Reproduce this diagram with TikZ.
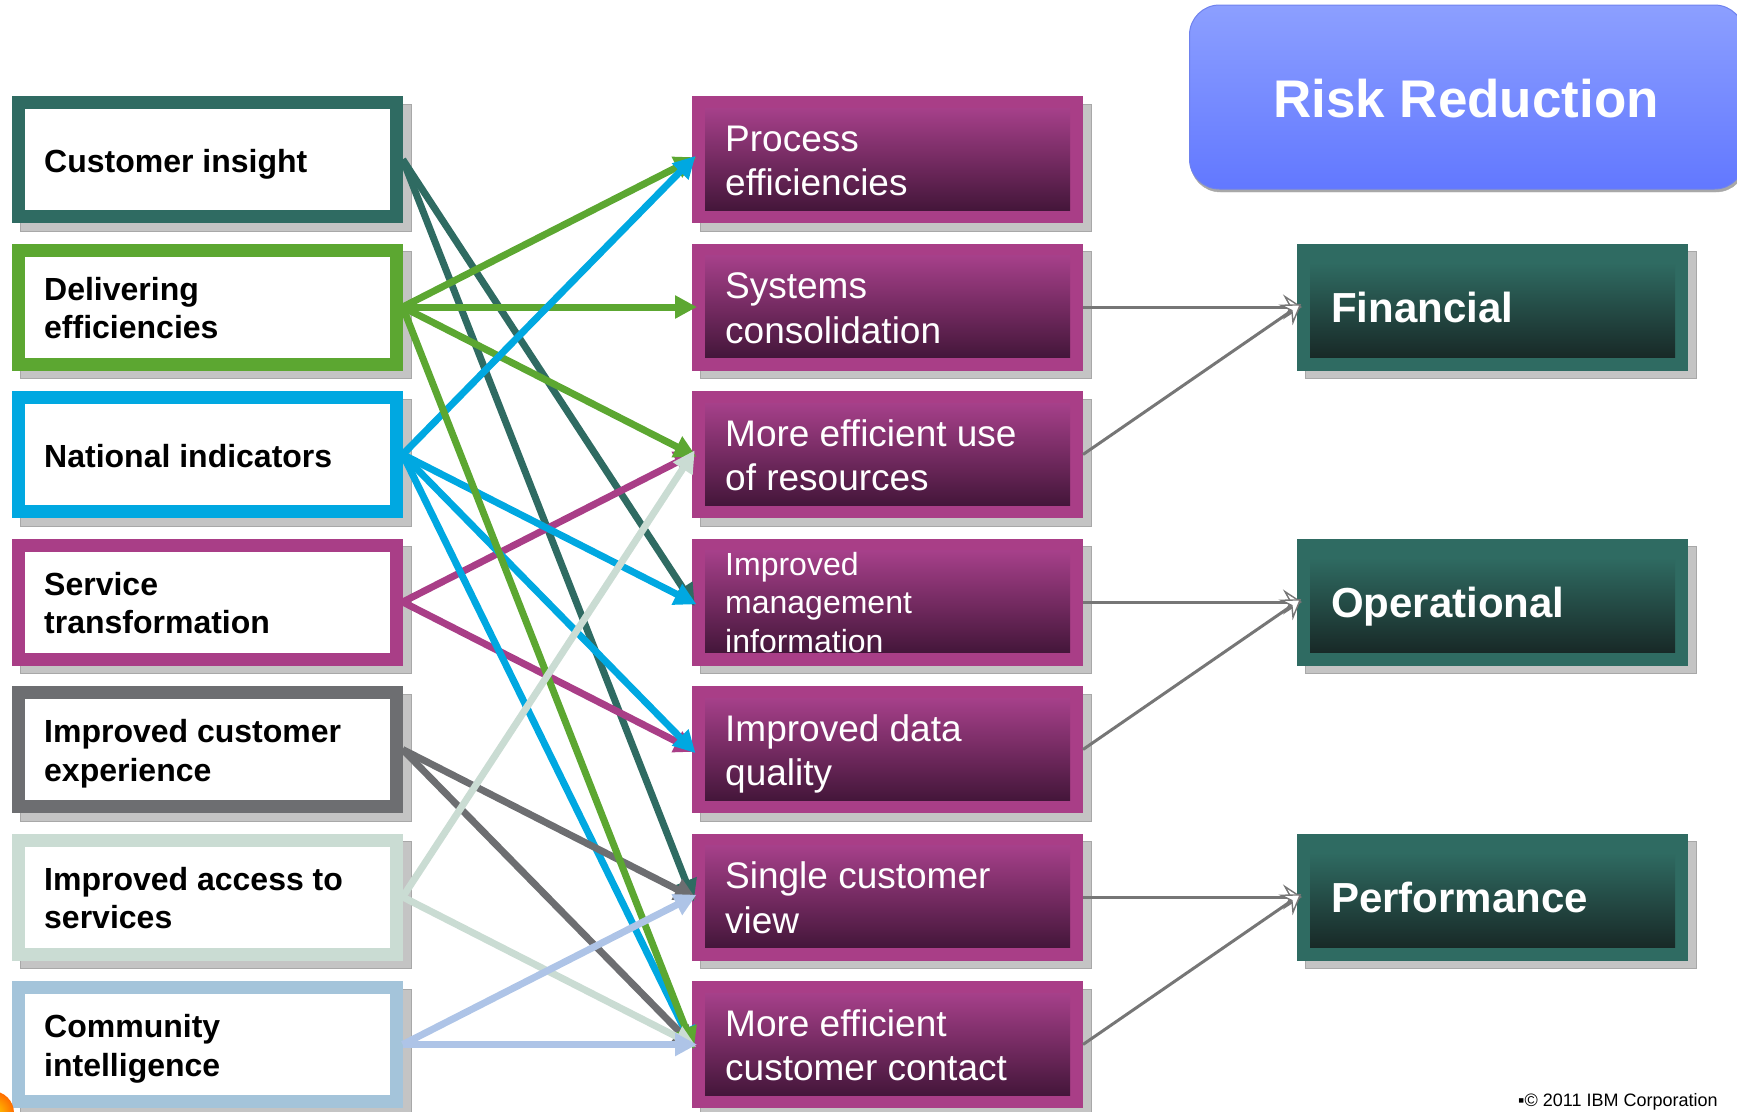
\documentclass[tikz,border=0pt]{standalone}
\usepackage{fontspec}
\setmainfont{Liberation Sans}
\usetikzlibrary{arrows.meta}
\definecolor{cteal}{HTML}{2F6B62}
\definecolor{cgreen}{HTML}{5CA731}
\definecolor{cblue}{HTML}{00A8E1}
\definecolor{cmag}{HTML}{A93E87}
\definecolor{cgrey}{HTML}{6D6E71}
\definecolor{cpale}{HTML}{CADCD3}
\definecolor{csteel}{HTML}{A4C4DA}
\definecolor{clav}{HTML}{AEC4E7}
\definecolor{mtop}{HTML}{A6408A}
\definecolor{mmid}{HTML}{7C2C66}
\definecolor{mbot}{HTML}{44163A}
\definecolor{ttop}{HTML}{2F6B62}
\definecolor{tbot}{HTML}{182927}
\definecolor{rtop}{HTML}{8C9FFF}
\definecolor{rbot}{HTML}{6278FF}
\definecolor{rline}{HTML}{6F82EE}
\definecolor{shadowc}{HTML}{C4C4C4}
\definecolor{shadowl}{HTML}{A8A8A8}
\definecolor{conn}{HTML}{767676}
\begin{document}
\begin{tikzpicture}[x=1pt,y=-1pt,
  lbox/.style={rectangle, draw=#1, line width=13pt, fill=white, minimum width=378pt, minimum height=114pt, inner sep=0pt},
  mbox/.style={rectangle, fill=cmag, minimum width=391pt, minimum height=127pt, inner sep=0pt, outer sep=0pt},
  rbox/.style={rectangle, fill=cteal, minimum width=391pt, minimum height=127pt, inner sep=0pt, outer sep=0pt},
  ltxt/.style={font=\fontsize{32}{38.5}\selectfont\bfseries, align=left, inner sep=0pt, text=black},
  mtxt/.style={font=\fontsize{37}{44.3}\selectfont, align=left, inner sep=0pt, text=white},
  msmall/.style={font=\fontsize{32}{38.5}\selectfont, align=left, inner sep=0pt, text=white},
  rtxt/.style={font=\fontsize{42}{50}\selectfont\bfseries, inner sep=0pt, text=white},
  larr/.style={draw=#1, line width=7pt, -{Triangle[length=22pt,width=22pt]}, shorten >=-5pt},
  rarr/.style={draw=conn, line width=3pt, -{Stealth[length=19pt,width=25pt,inset=7pt,fill=white,line width=1.4pt]}, shorten >=-5pt},
  shad/.style={fill=shadowc, draw=shadowl, line width=0.8pt}
]
\useasboundingbox (0,0) rectangle (1737,1111);
\clip (0,0) rectangle (1737,1111);

% shadows
\foreach \t in {96,243.5,391,538.5,686,833.5,981} {
  \filldraw[shad] (20.2,\t+8) rectangle (411.2,\t+135);
  \filldraw[shad] (700.5,\t+8) rectangle (1091.5,\t+135);
}
\foreach \t in {243.5,538.5,833.5} {
  \filldraw[shad] (1305.5,\t+8) rectangle (1696.5,\t+135);
}

% Risk Reduction
\filldraw[shadowl, rounded corners=30pt] (1190.5,8) rectangle (1746,192);
\node[rectangle, rounded corners=30pt, draw=rline, line width=1pt, top color=rtop, bottom color=rbot,
  minimum width=555pt, minimum height=184pt, inner sep=0pt] (RR) at (1467,97) {};
\node[font=\fontsize{53}{60}\selectfont\bfseries, text=white, inner sep=0pt, anchor=base] (RRt) at (1466,117) {Risk Reduction};

% left boxes
\node[lbox=cteal]  (L1) at (207.2,159.5) {};
\node[lbox=cgreen] (L2) at (207.2,307) {};
\node[lbox=cblue]  (L3) at (207.2,454.5) {};
\node[lbox=cmag]   (L4) at (207.2,602) {};
\node[lbox=cgrey]  (L5) at (207.2,749.5) {};
\node[lbox=cpale]  (L6) at (207.2,897) {};
\node[lbox=csteel] (L7) at (207.2,1044.5) {};

\node[ltxt, anchor=base west]  (T1) at (44,172) {Customer insight};
\node[ltxt, anchor=north west] (T2) at (44,273) {\strut Delivering\\\strut efficiencies};
\node[ltxt, anchor=base west]  (T3) at (44,467) {National indicators};
\node[ltxt, anchor=north west] (T4) at (44,568) {\strut Service\\\strut transformation};
\node[ltxt, anchor=north west] (T5) at (44,715.5) {\strut Improved customer\\\strut experience};
\node[ltxt, anchor=north west] (T6) at (44,863) {\strut Improved access to\\\strut services};
\node[ltxt, anchor=north west] (T7) at (44,1010.5) {\strut Community\\\strut intelligence};

% middle boxes
\foreach \n/\y in {1/159.5,2/307,3/454.5,4/602,5/749.5,6/897,7/1044.5} {
  \node[mbox] (M\n) at (887.5,\y) {};
  \shade[top color=mtop, middle color=mmid, bottom color=mbot] ([shift={(13,12)}]M\n.north west) rectangle ([shift={(-13,-13)}]M\n.south east);
}
\node[mtxt, anchor=north west] (N1) at (725,120) {\strut Process\\\strut efficiencies};
\node[mtxt, anchor=north west] (N2) at (725,267.5) {\strut Systems\\\strut consolidation};
\node[mtxt, anchor=north west] (N3) at (725,415) {\strut More efficient use\\\strut of resources};
\node[msmall, anchor=north west] (N4) at (725,548) {\strut Improved\\\strut management\\\strut information};
\node[mtxt, anchor=north west] (N5) at (725,710) {\strut Improved data\\\strut quality};
\node[mtxt, anchor=north west] (N6) at (725,857.5) {\strut Single customer\\\strut view};
\node[mtxt, anchor=north west] (N7) at (725,1005) {\strut More efficient\\\strut customer contact};

% right boxes
\foreach \n/\y in {1/307,2/602,3/897} {
  \node[rbox] (R\n) at (1492.5,\y) {};
  \shade[top color=ttop, bottom color=tbot] ([shift={(13,19)}]R\n.north west) rectangle ([shift={(-13,-13)}]R\n.south east);
}
\node[rtxt, anchor=base west] (F1) at (1331,322.5) {Financial};
\node[rtxt, anchor=base west] (F2) at (1331,617.5) {Operational};
\node[rtxt, anchor=base west] (F3) at (1331,912.5) {Performance};

% left-to-middle connectors
\draw[larr=cteal] (L1.east) -- (M4.west);
\draw[larr=cteal] (L1.east) -- (M6.west);
\draw[larr=cmag] (L4.east) -- (M3.west);
\draw[larr=cmag] (L4.east) -- (M5.west);
\draw[larr=cgreen] (L2.east) -- (M1.west);
\draw[larr=cgreen] (L2.east) -- (M2.west);
\draw[larr=cgreen] (L2.east) -- (M3.west);
\draw[larr=cblue] (L3.east) -- (M1.west);
\draw[larr=cblue] (L3.east) -- (M4.west);
\draw[larr=cblue] (L3.east) -- (M5.west);
\draw[larr=cblue] (L3.east) -- (M7.west);
\draw[larr=cgrey] (L5.east) -- (M6.west);
\draw[larr=cgrey] (L5.east) -- (M7.west);
\draw[larr=cgreen] (L2.east) -- (M7.west);
\draw[larr=cpale] (L6.east) -- (M3.west);
\draw[larr=cpale] (L6.east) -- (M7.west);
\draw[larr=clav] (L7.east) -- (M6.west);
\draw[larr=clav] (L7.east) -- (M7.west);

% middle-to-right connectors
\draw[rarr] (M2.east) -- (R1.west);
\draw[rarr] (M3.east) -- (R1.west);
\draw[rarr] (M4.east) -- (R2.west);
\draw[rarr] (M5.east) -- (R2.west);
\draw[rarr] (M6.east) -- (R3.west);
\draw[rarr] (M7.east) -- (R3.west);

% corner decoration and footer
\shade[inner color=yellow!70!orange, outer color=orange!85!red] (-8,1113) circle (22pt);
\node[font=\fontsize{18}{22}\selectfont, text=black, inner sep=0pt, anchor=base west] (CR) at (1518,1106) {▪© 2011 IBM Corporation};
\end{tikzpicture}
\end{document}
